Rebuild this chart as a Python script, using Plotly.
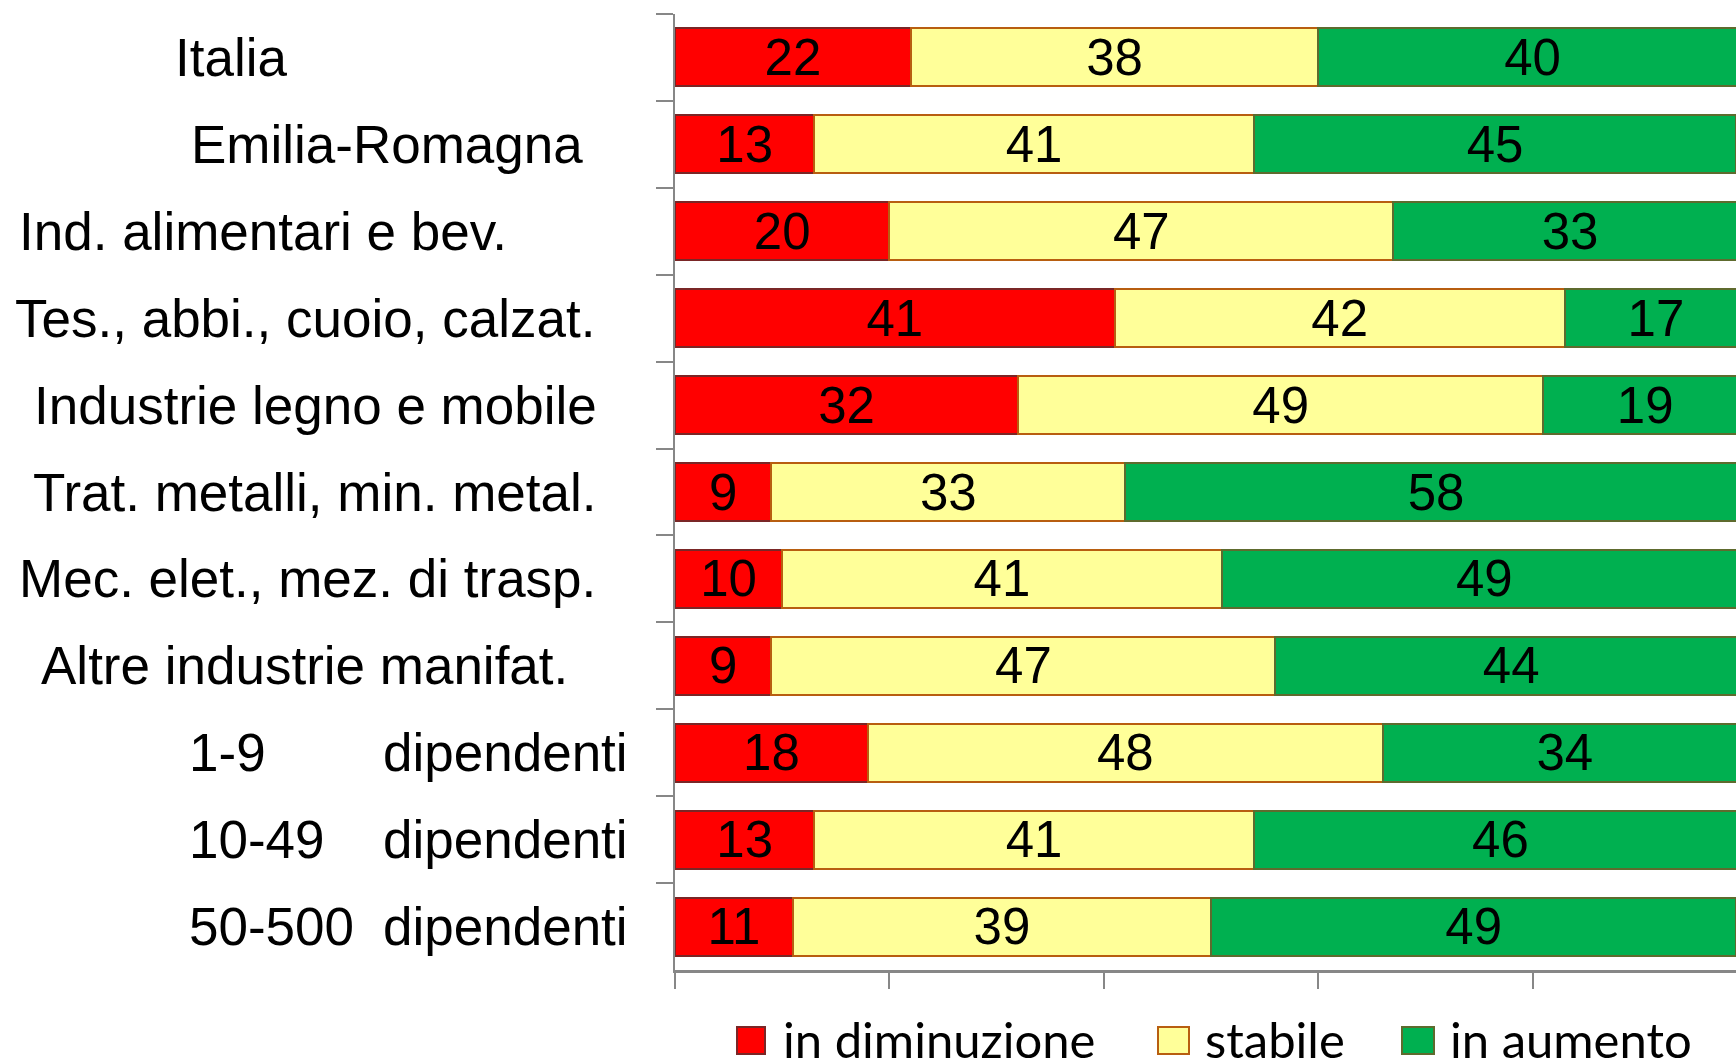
import plotly.graph_objects as go

# ---------------- data ----------------
categories = [
    "Italia",
    "Emilia-Romagna",
    "Ind. alimentari e bev.",
    "Tes., abbi., cuoio, calzat.",
    "Industrie legno e mobile",
    "Trat. metalli, min. metal.",
    "Mec. elet., mez. di trasp.",
    "Altre industrie manifat.",
    "1-9 dipendenti",
    "10-49 dipendenti",
    "50-500 dipendenti",
]
series_names = ["in diminuzione", "stabile", "in aumento"]
in_diminuzione = [22, 13, 20, 41, 32, 9, 10, 9, 18, 13, 11]
stabile = [38, 41, 47, 42, 49, 33, 41, 47, 48, 41, 39]
in_aumento = [40, 45, 33, 17, 19, 58, 49, 44, 34, 46, 49]
x_tick_values = [0, 20, 40, 60, 80, 100]

# ---------------- layout geometry ----------------
W, H = 1736, 1059
AX_LEFT, AX_TOP, AX_BOTTOM = 675, 14, 970        # page pixels
L, T, B, R = AX_LEFT, AX_TOP, H - AX_BOTTOM, 0
PX_PER_PCT = 10.72
plot_w = W - L - R
plot_h = H - T - B
x_max = plot_w / PX_PER_PCT


def px_x(px):  # page pixel -> paper x
    return (px - AX_LEFT) / plot_w


def px_y(py):  # page pixel -> paper y
    return (AX_BOTTOM - py) / plot_h


fills = ["#FF0000", "#FFFF99", "#00B050"]
edges = ["#7A2626", "#B85E10", "#5E6B2E"]
series_values = [in_diminuzione, stabile, in_aumento]

ARIAL = "Liberation Sans, Arial, sans-serif"
fig = go.Figure()
for name, vals, fc, ec in zip(series_names, series_values, fills, edges):
    fig.add_trace(go.Bar(
        y=categories, x=vals, name=name, orientation="h",
        marker=dict(color=fc, line=dict(color=ec, width=2)),
        text=vals, textposition="inside", insidetextanchor="middle",
        textangle=0, constraintext="none",
        textfont=dict(family=ARIAL, size=51, color="black"),
        showlegend=False, hoverinfo="skip",
    ))

# category labels (placed like the original)
label_pos = {
    "Italia": ("center", 231),
    "Emilia-Romagna": ("center", 387),
    "Ind. alimentari e bev.": ("center", 263),
    "Tes., abbi., cuoio, calzat.": ("center", 305),
    "Industrie legno e mobile": ("center", 315),
    "Trat. metalli, min. metal.": ("center", 315),
    "Mec. elet., mez. di trasp.": ("center", 307),
    "Altre industrie manifat.": ("center", 304),
}
annotations = []
for cat in categories:
    if cat in label_pos:
        anchor, xp = label_pos[cat]
        annotations.append(dict(
            x=px_x(xp), xref="paper", y=cat, yref="y", text=cat,
            xanchor=anchor, yanchor="middle", showarrow=False,
            font=dict(family=ARIAL, size=53, color="black")))
    else:
        rng, word = cat.split(" ", 1)
        annotations.append(dict(
            x=px_x(187), xref="paper", y=cat, yref="y", text=rng,
            xanchor="left", yanchor="middle", showarrow=False,
            font=dict(family=ARIAL, size=53, color="black")))
        annotations.append(dict(
            x=px_x(381), xref="paper", y=cat, yref="y", text=word,
            xanchor="left", yanchor="middle", showarrow=False,
            font=dict(family=ARIAL, size=53, color="black")))

# manual legend
legend_sq = [(737, 765), (1158, 1189), (1402, 1434)]
legend_tx = [781, 1203, 1448]
shapes = []
for (x0, x1), tx, name, fc, ec in zip(legend_sq, legend_tx, series_names, fills, edges):
    shapes.append(dict(type="rect", xref="paper", yref="paper",
                       x0=px_x(x0), x1=px_x(x1), y0=px_y(1054), y1=px_y(1027),
                       fillcolor=fc, line=dict(color=ec, width=2)))
    annotations.append(dict(
        x=px_x(tx), xref="paper", y=px_y(1039), yref="paper", text=name,
        xanchor="left", yanchor="middle", showarrow=False,
        font=dict(family="Lato, Carlito, sans-serif", size=49, color="black")))

fig.update_layout(
    width=W, height=H,
    margin=dict(l=L, r=R, t=T, b=B, pad=0),
    barmode="stack", bargap=0.333,
    plot_bgcolor="white", paper_bgcolor="white",
    xaxis=dict(range=[0, x_max], tickvals=x_tick_values, showticklabels=False,
               ticks="outside", ticklen=16, tickwidth=2, tickcolor="#878787",
               showline=True, linecolor="#878787", linewidth=3,
               showgrid=False, zeroline=False, fixedrange=True),
    yaxis=dict(range=[len(categories) - 0.5, -0.5], type="category",
               showticklabels=False, ticks="outside", tickson="boundaries",
               ticklen=17, tickwidth=2, tickcolor="#878787",
               showline=True, linecolor="#878787", linewidth=2,
               showgrid=False, zeroline=False, fixedrange=True),
    annotations=annotations, shapes=shapes,
    showlegend=False,
)

fig.write_html(
    "out.html",
    config={"displayModeBar": False},
    post_script="document.body.style.margin='0';document.body.style.overflow='hidden';",
)
